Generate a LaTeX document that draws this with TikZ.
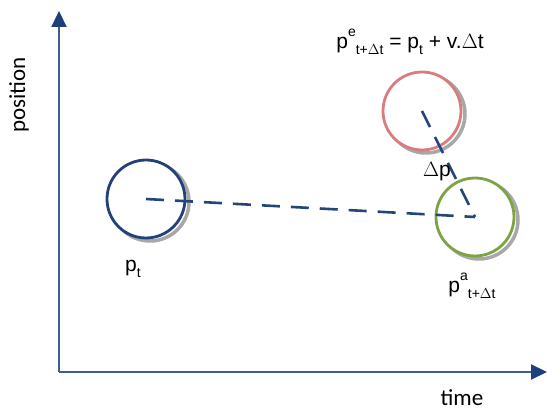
\documentclass[tikz,border=0pt]{standalone}
\usepackage{fontspec}
\setmainfont{Liberation Sans}
\newfontfamily\axisfont{Carlito}
\usetikzlibrary{arrows.meta}
\definecolor{axisblue}{HTML}{3D5F8E}
\definecolor{headblue}{HTML}{1F3F7A}
\definecolor{cblue}{HTML}{23407A}
\definecolor{cred}{HTML}{D97C7E}
\definecolor{cgreen}{HTML}{7DA444}
\definecolor{dashblue}{HTML}{24457A}
\definecolor{shadowgray}{HTML}{A8A8A8}
\tikzset{
  axis/.style={draw=axisblue, line width=2.2pt, -{Triangle[length=16pt,width=15pt,color=headblue]}},
  ball/.style={circle, draw=#1, line width=2.8pt, fill=white, minimum size=78pt, inner sep=0pt},
  shadow/.style={circle, draw=shadowgray, line width=3.5pt, minimum size=78pt, inner sep=0pt},
  dashline/.style={draw=dashblue, line width=2.6pt, dash pattern=on 18pt off 11pt},
  lbl/.style={font=\fontsize{21}{23}\selectfont, inner sep=0pt},
  axlbl/.style={font=\axisfont\fontsize{23}{25}\selectfont, inner sep=0pt}
}
\newcommand{\subtxt}[1]{\raisebox{-0.28em}{\fontsize{14}{15}\selectfont #1}}
\newcommand{\supsub}[2]{\raisebox{0.55em}{\fontsize{14}{15}\selectfont #1}\subtxt{#2}}
\begin{document}
\begin{tikzpicture}[x=1pt,y=1pt]
\useasboundingbox (0,0) rectangle (547,417);
% axes
\coordinate (o) at (59,45);
\coordinate (ytop) at (59,406);
\coordinate (xend) at (547,45);
\draw[axis] (o) -- (ytop);
\draw[axis] (o) -- (xend);
\node[axlbl, rotate=90] (pos) at (19,322) {position};
\node[axlbl] (time) at (462,19) {time};
% shadows
\node[shadow] (s1) at (150,215) {};
\node[shadow] (s2) at (426,303) {};
\node[shadow] (s3) at (479,197) {};
% balls
\node[ball=cblue] (pt) at (146,218) {};
\node[ball=cred] (pe) at (422,306) {};
\node[ball=cgreen] (pa) at (475,200) {};
% dashed lines
\draw[dashline] (pt.center) -- (pa.center);
\draw[dashline] (pe.center) -- (pa.center);
% labels
\node[lbl] (ptl) at (133,148) {p\subtxt{t}};
\node[lbl] (dp) at (437,245) {$\Delta$p};
\node[lbl] (pal) at (472,131) {p\supsub{a}{t+$\Delta$t}};
\node[lbl] (eq) at (410,375) {p\supsub{e}{t+$\Delta$t} = p\subtxt{t} + v.$\Delta$t};
\end{tikzpicture}
\end{document}
